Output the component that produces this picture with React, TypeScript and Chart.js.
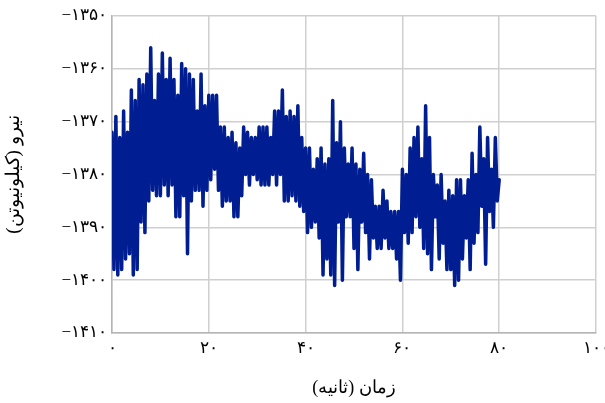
import React, { useEffect, useRef } from "react";
import { Chart, registerables } from "chart.js";

Chart.register(...registerables);

// x-axis ticks (seconds) and y-axis ticks (kN)
const xTickValues = [0, 20, 40, 60, 80, 100];
const yTickValues = [-1410, -1400, -1390, -1380, -1370, -1360, -1350];

const xTitle = "زمان (ثانیه)";
const yTitle = "نیرو (کیلونیوتن)";

// sampling interval of the recorded force (s)
const sampleStep = 0.4;

// force readings (kN), ten samples per 4 s row, from t = 0 to t = 80 s
const forceKN = [
  -1372, -1398, -1369, -1399, -1373, -1398, -1368, -1396, -1372, -1395, // 0-4 s
  -1364, -1399, -1366, -1398, -1362, -1389, -1363, -1391, -1361, -1385, // 4-8 s
  -1356, -1383, -1366, -1384, -1361, -1384, -1357, -1382, -1362, -1384, // 8-12 s
  -1358, -1382, -1362, -1388, -1365, -1388, -1359, -1384, -1360, -1395, // 12-16 s
  -1361, -1385, -1362, -1383, -1368, -1383, -1361, -1386, -1367, -1383, // 16-20 s
  -1365, -1381, -1365, -1379, -1365, -1383, -1371, -1386, -1371, -1385, // 20-24 s
  -1373, -1385, -1372, -1388, -1374, -1388, -1375, -1384, -1371, -1380, // 24-28 s
  -1372, -1382, -1373, -1380, -1373, -1381, -1371, -1382, -1371, -1382, // 28-32 s
  -1371, -1382, -1373, -1380, -1368, -1382, -1368, -1380, -1364, -1385, // 32-36 s
  -1369, -1385, -1368, -1384, -1369, -1385, -1367, -1386, -1373, -1387, // 36-40 s
  -1375, -1391, -1375, -1390, -1379, -1389, -1377, -1392, -1375, -1399, // 40-44 s
  -1378, -1396, -1377, -1399, -1366, -1401, -1374, -1389, -1370, -1400, // 44-48 s
  -1375, -1388, -1378, -1388, -1375, -1394, -1378, -1398, -1379, -1389, // 48-52 s
  -1376, -1391, -1380, -1396, -1381, -1392, -1386, -1394, -1386, -1394, // 52-56 s
  -1383, -1392, -1385, -1394, -1387, -1394, -1387, -1396, -1387, -1400, // 56-60 s
  -1379, -1391, -1380, -1393, -1375, -1391, -1373, -1388, -1371, -1390, // 60-64 s
  -1377, -1394, -1367, -1395, -1373, -1398, -1380, -1388, -1382, -1396, // 64-68 s
  -1380, -1393, -1385, -1398, -1383, -1398, -1384, -1401, -1381, -1400, // 68-72 s
  -1381, -1396, -1384, -1392, -1381, -1398, -1376, -1393, -1380, -1391, // 72-76 s
  -1371, -1386, -1377, -1397, -1373, -1387, -1379, -1390, -1373, -1385, // 76-80 s
  -1381, // 80 s
];

const timeS = forceKN.map((_, i) => Math.round(i * sampleStep * 10) / 10);

const faDigits = "۰۱۲۳۴۵۶۷۸۹";
const toFa = (v: number) => {
  const s = String(Math.abs(Math.round(v))).replace(/\d/g, (d) => faDigits[+d]);
  return v < 0 ? "−" + s : s;
};

const LINE_COLOR = "#001e91";
const GRID_COLOR = "#cfcfcf";
const FONT_FAMILY = "serif";

export default function App() {
  const canvasRef = useRef<HTMLCanvasElement | null>(null);

  useEffect(() => {
    const canvas = canvasRef.current;
    if (!canvas) return;
    const chart = new Chart(canvas, {
      type: "line",
      data: {
        labels: timeS,
        datasets: [
          {
            data: timeS.map((t, i) => ({ x: t, y: forceKN[i] })),
            borderColor: LINE_COLOR,
            backgroundColor: LINE_COLOR,
            borderWidth: 3.5,
            pointRadius: 0,
            tension: 0,
            borderJoinStyle: "round",
            borderCapStyle: "round",
          },
        ],
      },
      options: {
        animation: false,
        responsive: false,
        devicePixelRatio: 1,
        layout: { padding: { top: 16, right: 9, left: 0, bottom: 0 } },
        plugins: { legend: { display: false }, tooltip: { enabled: false } },
        scales: {
          x: {
            type: "linear",
            min: 0,
            max: 100,
            afterBuildTicks: (scale: any) => {
              scale.ticks = xTickValues.map((v) => ({ value: v }));
            },
            afterFit: (scale: any) => {
              scale.height = 70;
              scale.paddingLeft = 0;
              scale.paddingRight = 0;
            },
            ticks: {
              callback: (v: any) => toFa(Number(v)),
              color: "#000",
              font: { family: FONT_FAMILY, size: 17 },
              padding: 5,
              maxRotation: 0,
            },
            grid: { color: GRID_COLOR, lineWidth: 1.5, drawTicks: false },
            border: { color: "#b5b5b5", width: 1.5 },
            title: {
              display: true,
              text: xTitle,
              color: "#000",
              font: { family: FONT_FAMILY, size: 18 },
              padding: { top: 12 },
            },
          },
          y: {
            type: "linear",
            min: -1410,
            max: -1350,
            afterBuildTicks: (scale: any) => {
              scale.ticks = yTickValues.map((v) => ({ value: v }));
            },
            afterFit: (scale: any) => {
              scale.width = 112;
              scale.paddingTop = 0;
              scale.paddingBottom = 0;
            },
            ticks: {
              callback: (v: any) => toFa(Number(v)),
              color: "#000",
              font: { family: FONT_FAMILY, size: 17 },
              padding: 5,
            },
            grid: { color: GRID_COLOR, lineWidth: 1.5, drawTicks: false },
            border: { color: "#b5b5b5", width: 1.5 },
            title: {
              display: true,
              text: yTitle,
              color: "#000",
              font: { family: FONT_FAMILY, size: 19 },
              padding: { top: 3, bottom: 0 },
            },
          },
        },
      },
    } as any);
    return () => chart.destroy();
  }, []);

  return (
    <div style={{ position: "absolute", left: 0, top: 0, width: 605, height: 403, background: "#fff" }}>
      <canvas ref={canvasRef} width={605} height={403} style={{ width: 605, height: 403, display: "block" }} />
    </div>
  );
}
